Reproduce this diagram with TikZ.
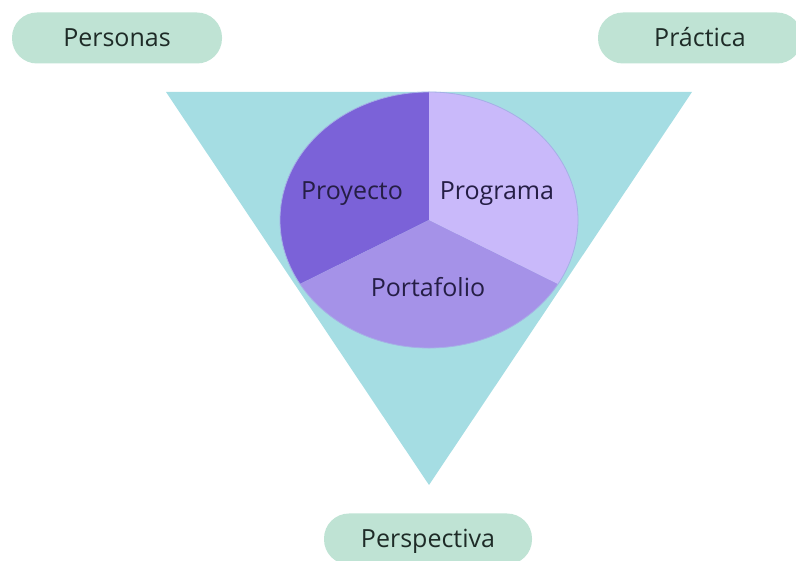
\documentclass[tikz,border=0pt]{standalone}
\usepackage{fontspec}
\setmainfont{Open Sans}
\usetikzlibrary{calc}
\definecolor{tri}{HTML}{A5DDE3}
\definecolor{pill}{HTML}{BFE3D4}
\definecolor{sdark}{HTML}{7B62D8}
\definecolor{slight}{HTML}{C9B9FA}
\definecolor{smid}{HTML}{A592E8}
\definecolor{pilltext}{HTML}{1E2B27}
\definecolor{segtext}{HTML}{251E45}
\begin{document}
\begin{tikzpicture}[x=1pt,y=1pt,
  pillbox/.style={fill=pill,draw=none,rounded corners=25pt,minimum height=51pt,inner sep=0pt,
    text height=17.8pt,text depth=0pt,
    font=\fontsize{25}{30}\selectfont,text=pilltext},
  seglabel/.style={font=\fontsize{25}{30}\selectfont,text=segtext,inner sep=0pt,anchor=base}]
\useasboundingbox (0,0) rectangle (796,561);
% triangle
\coordinate (tl) at (166,469);
\coordinate (tr) at (692,469);
\coordinate (ap) at (429,76);
\fill[tri] (tl) -- (tr) -- (ap) -- cycle;
% ellipse sectors
\coordinate (c) at (429,341);
\fill[sdark] (c) -- ($(c)+(90:149 and 128)$) arc[start angle=90,end angle=210,x radius=149,y radius=128] -- cycle;
\fill[smid] (c) -- ($(c)+(210:149 and 128)$) arc[start angle=210,end angle=330,x radius=149,y radius=128] -- cycle;
\fill[slight] (c) -- ($(c)+(330:149 and 128)$) arc[start angle=330,end angle=450,x radius=149,y radius=128] -- cycle;
\draw[color=smid!60!tri,line width=0.8pt] (c) ellipse[x radius=149,y radius=128];
% labels
\node[seglabel] (proy) at (352,361) {Proyecto};
\node[seglabel] (prog) at (497,361) {Programa};
\node[seglabel] (port) at (428,264) {Portafolio};
% pills
\node[pillbox,minimum width=210pt] (pers) at (117,523) {Personas};
\node[pillbox,minimum width=204pt] (prac) at (700,523) {Práctica};
\node[pillbox,minimum width=208pt] (persp) at (428,22) {Perspectiva};
\end{tikzpicture}
\end{document}
